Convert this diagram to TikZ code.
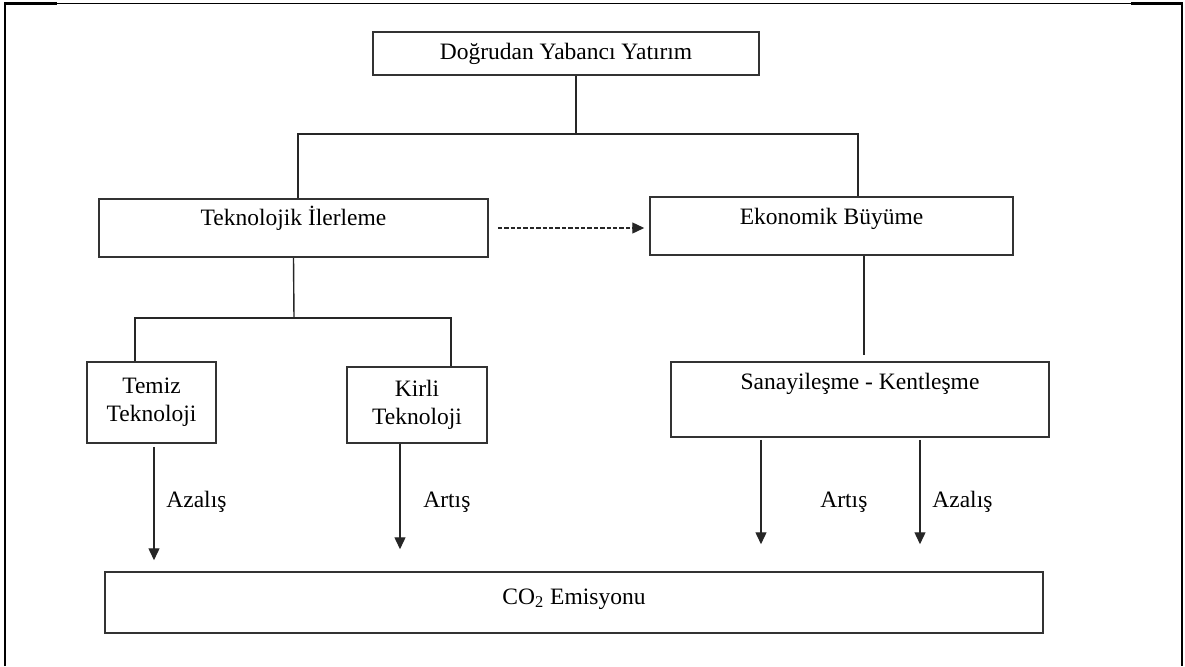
\documentclass[tikz,border=0pt]{standalone}
\usepackage{fontspec}
\setmainfont{Liberation Serif}
\usetikzlibrary{arrows.meta,positioning,calc}

\begin{document}
\begin{tikzpicture}[x=0.5pt,y=-0.5pt,font=\fontsize{11.75}{14}\selectfont,
  blk/.style={draw=black!80,line width=0.75pt,inner sep=0pt,align=center},
  one/.style={text height=8.5pt,text depth=#1},
  ln/.style={draw=black!85,line width=0.7pt},
  arr/.style={ln,-{Triangle[length=6pt,width=5.5pt]}},
  darr/.style={arr,dash pattern=on 2.2pt off 1pt},
  lbl/.style={anchor=west,inner sep=0pt}]
\useasboundingbox (0,0) rectangle (1185,666);
\draw[line width=1.3pt] (5,666) -- (5,3.5) -- (57,3.5);
\draw[line width=0.6pt] (57,3.5) -- (1131,3.5);
\draw[line width=1.3pt] (1131,3.5) -- (1182,3.5) -- (1182,666);
\node[blk,one=2.5pt,minimum width=193pt,minimum height=21.5pt] (dyy) at (566,53.5) {Doğrudan Yabancı Yatırım};
\node[blk,one=11.5pt,minimum width=194.5pt,minimum height=29pt] (tek) at (293.5,228) {Teknolojik İlerleme};
\node[blk,one=10.5pt,minimum width=181.5pt,minimum height=29pt] (eko) at (831.5,226) {Ekonomik Büyüme};
\node[blk,minimum width=64.5pt,minimum height=40.5pt] (temiz) at (151.5,402.5) {Temiz\\Teknoloji};
\node[blk,minimum width=70pt,minimum height=38pt] (kirli) at (417,405) {Kirli\\Teknoloji};
\node[blk,one=19pt,minimum width=189pt,minimum height=37.5pt] (sanayi) at (860,399.5) {Sanayileşme - Kentleşme};
\node[blk,one=7pt,minimum width=469pt,minimum height=30.5pt] (co2) at (574,602.5) {CO\textsubscript{2} Emisyonu};
\coordinate (top) at (576,134);
\coordinate (mid) at (294,318);
\draw[ln] ([xshift=5pt]dyy.south) -- (top);
\draw[ln] ([xshift=2.25pt]tek.north) |- (top) -| ([xshift=13.25pt]eko.north);
\draw[ln] (tek.south) -- (mid);
\draw[ln] ([xshift=-8.25pt]temiz.north) |- (mid) -| ([xshift=17pt]kirli.north);
\draw[ln,shorten >=3pt] ([xshift=16.25pt]eko.south) -- ([xshift=16.25pt]eko.south |- sanayi.north);
\draw[darr] ([xshift=4.5pt]tek.east) -- ([xshift=-2.5pt]eko.west |- tek.east);
\draw[arr,shorten <=1.5pt,shorten >=5.5pt] ([xshift=1.25pt]temiz.south) -- ([xshift=1.25pt]temiz.south |- co2.north);
\draw[arr,shorten >=11pt] ([xshift=-8.5pt]kirli.south) -- ([xshift=-8.5pt]kirli.south |- co2.north);
\draw[arr,shorten <=1pt,shorten >=13.5pt] ([xshift=-49.5pt]sanayi.south) -- ([xshift=-49.5pt]sanayi.south |- co2.north);
\draw[arr,shorten <=1pt,shorten >=13.5pt] ([xshift=30pt]sanayi.south) -- ([xshift=30pt]sanayi.south |- co2.north);
\node[lbl] (azl1) at (166,502) {Azalış};
\node[lbl] (art1) at (423,502) {Artış};
\node[lbl] (art2) at (820,502) {Artış};
\node[lbl] (azl2) at (932,502) {Azalış};
\end{tikzpicture}
\end{document}
